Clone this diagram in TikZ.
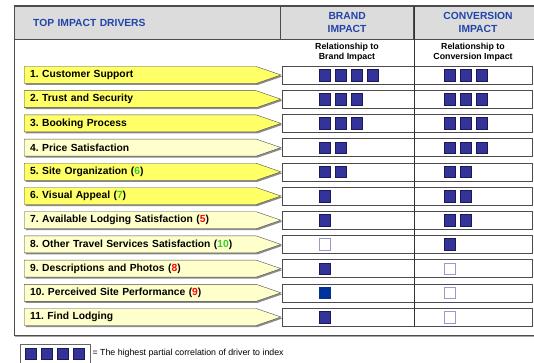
\documentclass[tikz,border=0pt]{standalone}
\usepackage{fontspec}
\setmainfont{Liberation Sans}
\usetikzlibrary{calc, positioning, shapes.symbols, shadows}
\definecolor{drvhi}{HTML}{FFFF66}
\definecolor{drvlo}{HTML}{FFFFCC}
\definecolor{hdblue}{HTML}{2244AA}
\definecolor{hdgray}{HTML}{DCDCDC}
\definecolor{sqblue}{HTML}{333399}
\definecolor{sqedge}{HTML}{1A1A55}
\definecolor{sqopen}{HTML}{9999CC}
\definecolor{sqbright}{HTML}{003399}
\definecolor{rankup}{HTML}{33CC33}
\definecolor{rankdn}{HTML}{FF0000}
\frenchspacing
\tikzset{
  drv/.style = {signal, signal to=east, signal pointer angle=38, draw=black!70, minimum height=17pt,
                text width=220pt, inner xsep=6pt, inner ysep=0pt, align=left, anchor=west,
                font=\fontsize{10.3}{12}\selectfont\bfseries,
                drop shadow={shadow xshift=1.5pt, shadow yshift=-1.5pt, fill=black!45, opacity=1}},
  rowbox/.style = {draw=black!70, minimum width=250pt, minimum height=18pt, anchor=west, inner sep=0pt},
  hdcell/.style = {draw=black!70, fill=hdgray, minimum height=33pt, anchor=north west, inner sep=0pt,
                   text=hdblue, font=\fontsize{10.3}{12}\selectfont\bfseries},
  sq/.style = {draw=sqedge, fill=sqblue, minimum size=11.5pt, inner sep=0pt},
  sqo/.style = {draw=sqopen, fill=white, minimum size=11.5pt, inner sep=0pt}
}

\begin{document}
\begin{tikzpicture}[x=1pt, y=-1pt]
  \useasboundingbox (0,0) rectangle (534,363);

  % header
  \node[hdcell, minimum width=266pt, text width=228pt, inner xsep=19pt, align=left] (hdrv) at (14,6) {TOP IMPACT DRIVERS};
  \node[hdcell, minimum width=133pt, align=center] (hbrand) at (hdrv.north east) {BRAND\\[0.5pt]IMPACT};
  \node[hdcell, minimum width=128pt, align=center] (hconv) at (hbrand.north east) {CONVERSION\\[0.5pt]IMPACT};
  \draw[black!70, line width=1pt] (14,6) rectangle (541,335);
  \draw[black!35, line width=1pt] (15,336.5) -- (541,336.5);

  \node[font=\fontsize{8.8}{10.5}\selectfont\bfseries, align=center] (sbrand) at (347,52) {Relationship to\\Brand Impact};
  \node[font=\fontsize{8.8}{10.5}\selectfont\bfseries, align=center] (sconv) at (473,52) {Relationship to\\Conversion Impact};

  % drivers and their rows
  \foreach \r/\txt/\fc in {1/{1. Customer Support}/drvhi, 2/{2. Trust and Security}/drvhi,
      3/{3. Booking Process}/drvhi, 4/{4. Price Satisfaction}/drvlo,
      5/{5. Site Organization (\textcolor{rankup}{6})}/drvhi, 6/{6. Visual Appeal (\textcolor{rankup}{7})}/drvhi,
      7/{7. Available Lodging Satisfaction (\textcolor{rankdn}{5})}/drvlo,
      8/{8. Other Travel Services Satisfaction (\textcolor{rankup}{10})}/drvlo,
      9/{9. Descriptions and Photos (\textcolor{rankdn}{8})}/drvlo,
      10/{10. Perceived Site Performance (\textcolor{rankdn}{9})}/drvlo, 11/{11. Find Lodging}/drvlo}{
    \node[drv, fill=\fc] (d\r) at (24,{75+24.2*(\r-1)}) {\txt};
    \node[rowbox] (r\r) at (282,{75+24.2*(\r-1)}) {};
  }
  \draw[black!80] (hconv.north west) -- (hconv.west |- r11.south);

  % squares
  \foreach \r/\nb/\nc in {1/4/3, 2/3/3, 3/3/3, 4/2/3, 5/2/2, 6/1/2, 7/1/2, 8/0/1, 9/1/0, 10/0/0, 11/1/0}{
    \ifnum\nb>0 \foreach \k in {1,...,\nb} {\node[sq] (sb\r-\k) at ($(r\r.west)+({42.8+16*(\k-1)},0)$) {};}\fi
    \ifnum\nc>0 \foreach \k in {1,...,\nc} {\node[sq] (sc\r-\k) at ($(r\r.west)+({167.8+16*(\k-1)},0)$) {};}\fi
  }
  \node[sqo] (sb8-1) at ($(r8.west)+(42.8,0)$) {};
  \node[sq, draw=sqbright, fill=sqbright] (sb10-1) at ($(r10.west)+(42.8,0)$) {};
  \node[sqo] (sc9-1) at ($(r9.west)+(167.8,0)$) {};
  \node[sqo] (sc10-1) at ($(r10.west)+(167.8,0)$) {};
  \node[sqo] (sc11-1) at ($(r11.west)+(167.8,0)$) {};

  % legend
  \node[draw=black!60, minimum width=70pt, minimum height=21pt, anchor=north west, inner sep=0pt] (lgbox) at (20,344) {};
  \foreach \k in {1,...,4} {\node[sq] (lg\k) at ($(lgbox.west)+({10.5+16*(\k-1)},-1)$) {};}
  \node[anchor=west, inner xsep=2pt, font=\fontsize{8.8}{10}\selectfont] (lgtxt) at (lgbox.east |- lg1) {= The highest partial correlation of driver to index};
\end{tikzpicture}
\end{document}
